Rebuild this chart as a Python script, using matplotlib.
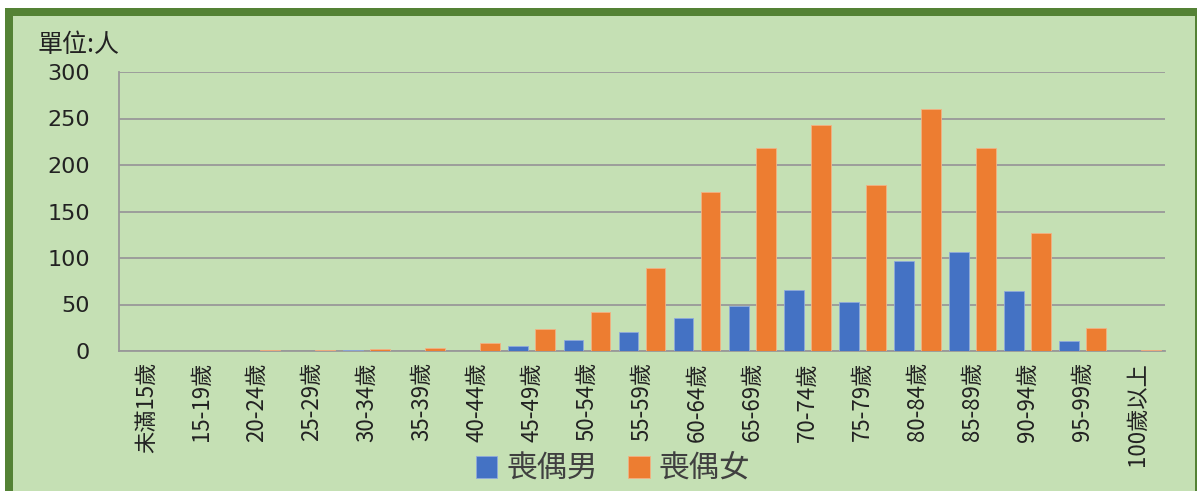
import numpy as np
import matplotlib
matplotlib.use("Agg")
import matplotlib.pyplot as plt
from matplotlib.patches import Rectangle

# age groups and counts (persons)
ages = ['未滿15歲', '15-19歲', '20-24歲', '25-29歲', '30-34歲', '35-39歲', '40-44歲',
        '45-49歲', '50-54歲', '55-59歲', '60-64歲', '65-69歲', '70-74歲', '75-79歲',
        '80-84歲', '85-89歲', '90-94歲', '95-99歲', '100歲以上']
male = [0, 0, 0, 0, 1, 0, 0, 5, 12, 20, 36, 48, 66, 53, 97, 106, 64, 11, 0]
female = [0, 0, 1, 1, 2, 3, 9, 24, 42, 89, 171, 218, 243, 179, 260, 218, 127, 25, 1]
series_names = ['喪偶男', '喪偶女']
yticks = [0, 50, 100, 150, 200, 250, 300]

cjk = ['Noto Sans CJK TC', 'DejaVu Sans']
bg = '#C5E0B4'
W, H = 1197, 491

fig = plt.figure(figsize=(W / 100, H / 100), dpi=100, facecolor='white')

# green panel with dark border (cut off at right/bottom)
lw_px = 8
fig.patches.append(Rectangle((8.5 / W, -20 / H), (1199 - 8.5) / W, (H + 20 - 11.5) / H,
                             transform=fig.transFigure, facecolor=bg, edgecolor='#548235',
                             linewidth=lw_px * 0.72, clip_on=False, zorder=-10))

ax = fig.add_axes([119 / W, 1 - 351 / H, (1165 - 119) / W, (351 - 72) / H])
ax.set_facecolor('none')
ax.set_zorder(5)

x = np.arange(len(ages))
bw = 0.36
off = 0.245
ax.bar(x - off, male, bw, color='#4472C4', edgecolor='#8FAADC', linewidth=0.6,
       label=series_names[0], zorder=3)
ax.bar(x + off, female, bw, color='#ED7D31', edgecolor='#F4B183', linewidth=0.6,
       label=series_names[1], zorder=3)

ax.set_xlim(-0.5, len(ages) - 0.5)
ax.set_ylim(0, 300)
ax.set_yticks(yticks)
ax.yaxis.grid(True, color='#999999', linewidth=1.3, zorder=1)
ax.set_axisbelow(True)
for s in ['top', 'right']:
    ax.spines[s].set_visible(False)
ax.spines['left'].set_color('#999999')
ax.spines['left'].set_linewidth(1.3)
ax.spines['bottom'].set_color('#999999')
ax.spines['bottom'].set_linewidth(1.3)
ax.tick_params(axis='y', length=0, pad=21, labelsize=16, labelcolor='#222222')
ax.tick_params(axis='x', length=0, pad=8)
ax.set_xticks(x)
ax.set_xticklabels(ages, rotation=90, fontsize=16, family=cjk, color='#222222')

fig.text(38 / W, 1 - 45 / H, '單位:人', fontsize=18, family=cjk, color='#222222', va='center')

leg = fig.legend(loc='center', bbox_to_anchor=(613 / W, 1 - 469 / H), ncol=2, frameon=False,
                 prop={'family': cjk, 'size': 22}, handlelength=0.7, handleheight=0.7,
                 handletextpad=0.3, columnspacing=1.0)
for t in leg.get_texts():
    t.set_color('#404040')

fig.savefig('out.png', dpi=100, facecolor='white')
